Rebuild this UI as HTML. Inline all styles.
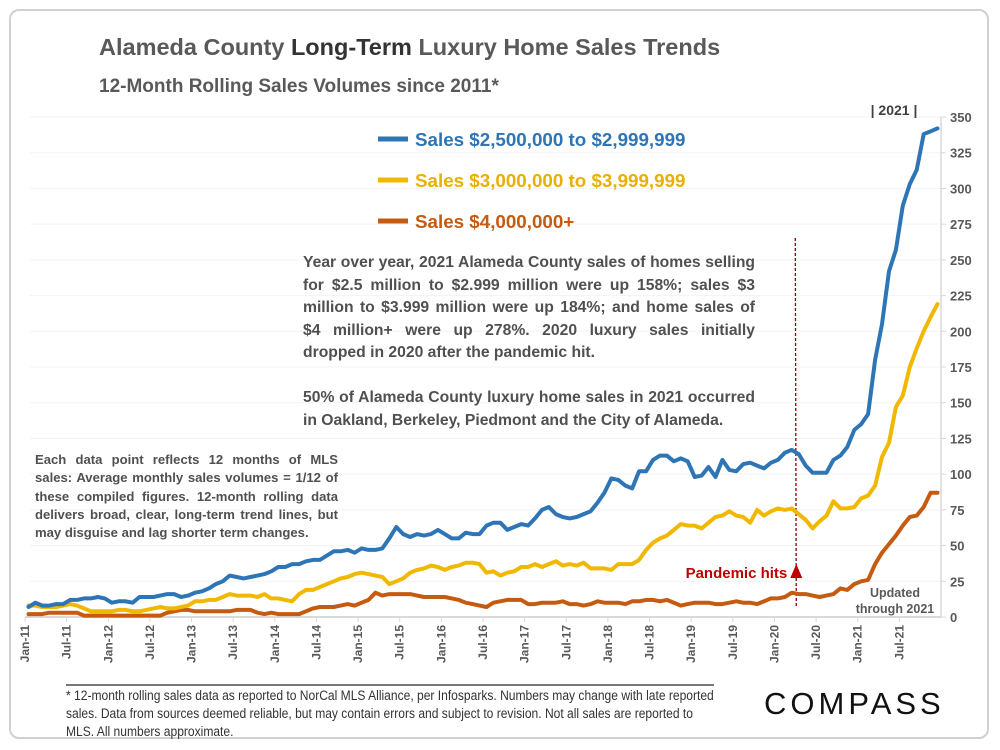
<!DOCTYPE html>
<html><head><meta charset="utf-8"><style>
body{margin:0;width:1000px;height:750px;background:#fff;overflow:hidden;font-family:"Liberation Sans",sans-serif;}
#frame{position:absolute;left:9px;top:9px;width:980px;height:730px;border:2px solid #d0d0d0;border-radius:10px;box-sizing:border-box;}
.t{position:absolute;white-space:nowrap;}
</style></head><body>
<div id="frame"></div>
<div class="t" style="left:99px;top:34px;font-size:23.5px;font-weight:bold;color:#595959;">Alameda County <span style="color:#333">Long-Term</span> Luxury Home Sales Trends</div>
<div class="t" style="left:99px;top:76px;font-size:19px;font-weight:bold;color:#595959;">12-Month Rolling Sales Volumes since 2011*</div>
<svg id="chart" width="1000" height="750" style="position:absolute;left:0;top:0"></svg>
<div class="t" style="left:303px;top:252px;width:452px;white-space:normal;text-align:justify;font-size:15.7px;line-height:22.5px;font-weight:bold;color:#505050;">Year over year, 2021 Alameda County sales of homes selling for $2.5 million to $2.999 million were up 158%; sales $3 million to $3.999 million were up 184%; and home sales of $4 million+ were up 278%. 2020 luxury sales initially dropped in 2020 after the pandemic hit.<br><br>50% of Alameda County luxury home sales in 2021 occurred in Oakland, Berkeley, Piedmont and the City of Alameda.</div>
<div class="t" style="left:35px;top:451px;width:303px;white-space:normal;text-align:justify;font-size:13.1px;line-height:18.3px;font-weight:bold;color:#505050;">Each data point reflects 12 months of MLS sales: Average monthly sales volumes = 1/12 of these compiled figures. 12-month rolling data delivers broad, clear, long-term trend lines, but may disguise and lag shorter term changes.</div>
<div class="t" style="left:66px;top:684px;width:720px;border-top:2px solid #777;padding-top:1px;white-space:normal;font-size:13.4px;line-height:18px;color:#333;transform:scaleX(0.9);transform-origin:0 0;">* 12-month rolling sales data as reported to NorCal MLS Alliance, per Infosparks. Numbers may change with late reported sales. Data from sources deemed reliable, but may contain errors and subject to revision. Not all sales are reported to MLS. All numbers approximate.</div>
<div class="t" style="left:764px;top:686px;font-size:31px;letter-spacing:4px;color:#111;">COMPASS</div>
<script>
const categoriesStart=2011;
const tickLabels=["Jan-11","Jul-11","Jan-12","Jul-12","Jan-13","Jul-13","Jan-14","Jul-14","Jan-15","Jul-15","Jan-16","Jul-16","Jan-17","Jul-17","Jan-18","Jul-18","Jan-19","Jul-19","Jan-20","Jul-20","Jan-21","Jul-21"];
const yTicks=[0,25,50,75,100,125,150,175,200,225,250,275,300,325,350];
const seriesBlue=[7,10,8,8,9,9,12,12,13,13,14,13,
10,11,11,10,14,14,14,15,16,16,14,15,
17,18,20,23,25,29,28,27,28,29,30,32,
35,35,37,37,39,40,40,43,46,46,47,45,
48,47,47,48,55,63,58,56,58,57,58,61,
58,55,55,59,58,58,64,66,66,61,63,65,
64,69,75,77,72,70,69,70,72,74,80,87,
97,96,92,90,102,102,110,113,113,109,111,109,
98,99,105,98,110,103,102,107,108,106,104,108,
110,115,117,114,106,101,101,101,110,113,119,131,
135,142,180,205,242,257,288,303,313,338,340,342];
const seriesYellow=[8,8,7,7,7,8,9,8,6,4,4,4,
4,5,5,4,4,5,6,7,6,6,7,8,
11,11,12,12,14,16,15,15,15,14,16,13,
13,12,11,16,19,19,21,23,25,27,28,30,
31,30,29,28,23,25,27,31,33,34,36,35,
33,35,36,38,38,37,31,32,29,31,32,35,
35,37,35,37,39,36,37,36,38,34,34,34,
33,37,37,37,40,47,52,55,57,61,65,64,
64,62,66,70,71,74,71,70,66,75,71,74,
76,75,76,72,68,62,67,71,81,76,76,77,
83,85,92,112,122,147,155,175,188,200,210,219];
const seriesOrange=[2,2,2,3,3,3,3,3,1,1,1,1,
1,1,1,1,1,1,1,1,3,4,5,5,
4,4,4,4,4,4,5,5,5,3,2,3,
2,2,2,2,4,6,7,7,7,8,9,8,
10,12,17,15,16,16,16,16,15,14,14,14,
14,13,12,10,9,8,7,10,11,12,12,12,
9,9,10,10,10,11,9,9,8,9,11,10,
10,10,9,11,11,12,12,11,12,10,8,9,
10,10,10,9,9,10,11,10,10,9,11,13,
13,14,17,16,16,15,14,15,16,20,19,23,
25,26,37,45,51,57,64,70,71,77,87,87];
const legendLabels=["Sales $2,500,000 to $2,999,999","Sales $3,000,000 to $3,999,999","Sales $4,000,000+"];
const colors=["#2e75b6","#f0b800","#c55a11"];
const pandemicIndex=110.5;

const NS="http://www.w3.org/2000/svg";
const svg=document.getElementById('chart');
const X0=25,X1=941,Y0=617,Y1=117,N=seriesBlue.length,YMAX=350;
const step=(X1-X0)/N;
const xC=i=>X0+(i+0.5)*step;
const xT=i=>X0+i*step;
const y=v=>Y0-(v/YMAX)*(Y0-Y1);
function mk(tag,attrs){const e=document.createElementNS(NS,tag);for(const k in attrs)e.setAttribute(k,attrs[k]);svg.appendChild(e);return e;}
yTicks.forEach(v=>{
  if(v>0){const g=mk('line',{x1:30,x2:X1,y1:y(v),y2:y(v),stroke:'#f3f3f3','stroke-width':1});
  
  }
  const tk=mk('line',{x1:X1,x2:X1+5,y1:y(v),y2:y(v),stroke:'#d9d9d9'});
  
  
  const t=mk('text',{x:950,y:y(v)+5,'font-size':13,'font-weight':'bold',fill:'#595959'});
  t.textContent=v;
  
  
});
const ya=mk('line',{x1:X1,x2:X1,y1:Y1,y2:Y0,stroke:'#d9d9d9','stroke-width':1.5});


const xa=mk('line',{x1:X0,x2:X1,y1:Y0,y2:Y0,stroke:'#d9d9d9','stroke-width':2});


tickLabels.forEach((l,k)=>{
  const xx=xT(k*6);
  const tk=mk('line',{x1:xx,x2:xx,y1:Y0,y2:Y0+5,stroke:'#d9d9d9'});
  
  
  const t=mk('text',{x:0,y:0,'font-size':12,'font-weight':'bold',fill:'#595959','text-anchor':'end',transform:`translate(${xx+4},${Y0+8}) rotate(-90)`});
  t.textContent=l;
  
  
});
const xp=xC(pandemicIndex);
const pl=mk('line',{x1:xp,x2:xp+1,y1:238,y2:608,stroke:'#8b0000','stroke-width':1.3,'stroke-dasharray':'3,2'});


const ar=mk('polygon',{points:`${xp+1},564 ${xp-5},578 ${xp+7},578`,fill:'#c00000'});


const pt=mk('text',{x:xp-8,y:578,'font-size':15,'font-weight':'bold',fill:'#c00000','text-anchor':'end'});
pt.textContent='Pandemic hits';


[['Updated',597],['through 2021',613]].forEach(([s,yy])=>{
  const t=mk('text',{x:895,y:yy,'font-size':12.5,'font-weight':'bold',fill:'#595959','text-anchor':'middle'});
  t.textContent=s;
  
  
});
const yr=mk('text',{x:894,y:115,'font-size':14,'font-weight':'bold',fill:'#404040','text-anchor':'middle'});
yr.textContent='|    2021    |';
yr.setAttribute('xml:space','preserve');


[seriesOrange,seriesYellow,seriesBlue].forEach((s,j)=>{
  const ci=2-j;
  const d=s.map((v,i)=>(i?'L':'M')+xC(i).toFixed(1)+','+y(v).toFixed(1)).join(' ');
  const p=mk('path',{d:d,fill:'none',stroke:colors[ci],'stroke-width':4,'stroke-linejoin':'round','stroke-linecap':'round'});
  
  
});
legendLabels.forEach((l,i)=>{
  const yy=139+i*41;
  const ln=mk('line',{x1:378,x2:408,y1:yy,y2:yy,stroke:colors[i],'stroke-width':5});
  
  
  const t=mk('text',{x:415,y:yy+7,'font-size':18.8,'font-weight':'bold',fill:colors[i]==='#f0b800'?'#e8b000':colors[i]});
  t.textContent=l;
  
  
});
</script>
</body></html>
